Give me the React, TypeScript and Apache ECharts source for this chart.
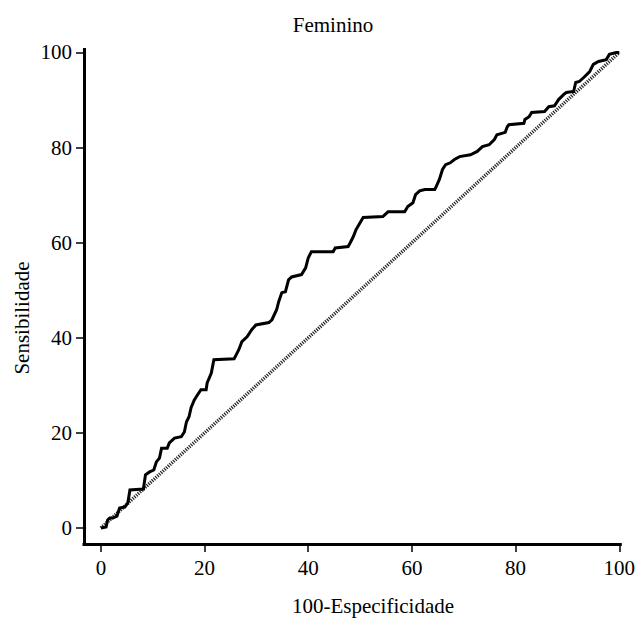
import React, { useEffect, useRef } from "react";
import * as echarts from "echarts";

const titleText = "Feminino";
const xName = "100-Especificidade";
const yName = "Sensibilidade";
const tickValues = [0, 20, 40, 60, 80, 100];

// ROC curve vertices (100-specificity, sensitivity)
const fpr = [
  0, 1.0, 1.3, 1.7, 2.3, 3.1, 3.6, 4.6, 5.2, 5.6, 8.2, 8.6, 9.4, 10.2, 10.7, 11.3, 11.7, 12.8,
  13.2, 14.2, 15.5, 16.1, 16.5, 17.0, 17.4, 18.0, 18.4, 19.3, 20.3, 20.5, 21.3, 21.8, 25.7, 26.1,
  26.6, 27.2, 28.2, 29.1, 29.9, 32.4, 33.0, 33.9, 34.3, 34.9, 35.6, 36.2, 36.8, 38.7, 39.5, 40.0,
  40.6, 44.8, 45.2, 47.7, 48.1, 48.7, 49.2, 50.0, 50.6, 54.4, 54.8, 55.4, 58.6, 59.2, 60.2, 60.7,
  61.5, 62.5, 64.4, 64.6, 65.3, 65.9, 66.5, 67.4, 68.2, 69.2, 71.3, 72.6, 73.6, 74.9, 75.9, 76.4,
  78.0, 78.4, 78.7, 81.6, 81.8, 82.6, 83.1, 85.6, 86.4, 87.5, 88.3, 89.3, 89.8, 91.2, 91.6, 92.3,
  93.3, 94.3, 95.0, 96.0, 97.5, 98.1, 99.4, 100,
];
const tpr = [
  0, 0.2, 1.7, 2.1, 2.1, 2.5, 4.2, 4.4, 5.3, 8.0, 8.2, 11.2, 11.8, 12.2, 13.9, 14.7, 16.8, 16.8,
  17.9, 18.9, 19.2, 20.2, 22.3, 23.4, 25.3, 26.9, 27.6, 29.1, 29.1, 30.5, 32.6, 35.4, 35.6, 36.4,
  37.5, 39.2, 40.2, 41.7, 42.7, 43.2, 43.8, 45.9, 47.6, 49.5, 49.7, 52.2, 52.8, 53.3, 54.7, 56.8,
  58.1, 58.1, 58.9, 59.2, 60.0, 61.3, 62.7, 64.2, 65.3, 65.5, 65.9, 66.5, 66.5, 67.6, 68.4, 70.1,
  70.9, 71.2, 71.2, 71.6, 73.3, 75.4, 76.4, 76.8, 77.5, 78.1, 78.5, 79.2, 80.2, 80.6, 81.7, 82.7,
  83.2, 84.4, 84.8, 85.1, 85.9, 86.5, 87.4, 87.6, 88.6, 88.8, 90.1, 91.2, 91.6, 91.8, 93.7, 93.9,
  94.9, 96.0, 97.5, 98.1, 98.5, 99.6, 100, 100,
];
const diagX = [0, 100];
const diagY = [0, 100];

const FONT = "Times New Roman, Liberation Serif, DejaVu Serif, serif";

export default function App() {
  const ref = useRef<HTMLDivElement>(null);
  useEffect(() => {
    if (!ref.current) return;
    const chart = echarts.init(ref.current, null, { renderer: "svg" });
    const axisCommon = {
      type: "value" as const,
      splitLine: { show: false },
      axisLine: { show: true, onZero: false, lineStyle: { color: "#000", width: 3, cap: "square" } },
      axisTick: {
        show: true,
        length: 8,
        customValues: tickValues,
        lineStyle: { color: "#000", width: 1.5 },
      },
      axisLabel: {
        customValues: tickValues,
        color: "#000",
        fontFamily: FONT,
        fontSize: 21,
      },
    };
    chart.setOption({
      animation: false,
      backgroundColor: "#fff",
      textStyle: { fontFamily: FONT },
      grid: { left: 84, right: 14, top: 49.5, bottom: 74, containLabel: false },
      xAxis: {
        ...axisCommon,
        min: -3.26,
        max: 100.2,
        axisLabel: { ...axisCommon.axisLabel, margin: 13 },
      },
      yAxis: {
        ...axisCommon,
        min: -3.36,
        max: 100.63,
        axisLabel: { ...axisCommon.axisLabel, margin: 12 },
      },
      graphic: [
        {
          type: "text",
          x: 333,
          y: 25,
          style: {
            text: titleText,
            font: "21px " + FONT,
            fill: "#000",
            textAlign: "center",
            textVerticalAlign: "middle",
          },
        },
        {
          type: "text",
          x: 373,
          y: 606,
          style: {
            text: xName,
            font: "21px " + FONT,
            fill: "#000",
            textAlign: "center",
            textVerticalAlign: "middle",
          },
        },
        {
          type: "text",
          x: 22,
          y: 318,
          rotation: Math.PI / 2,
          style: {
            text: yName,
            font: "21px " + FONT,
            fill: "#000",
            textAlign: "center",
            textVerticalAlign: "middle",
          },
        },
      ],
      series: [
        {
          type: "line",
          data: diagX.map((x, i) => [x, diagY[i]]),
          symbol: "none",
          silent: true,
          lineStyle: { color: "#222", width: 3.5, type: [1.2, 1.2] },
          z: 2,
        },
        {
          type: "line",
          data: fpr.map((x, i) => [x, tpr[i]]),
          symbol: "none",
          silent: true,
          lineStyle: { color: "#000", width: 3, join: "miter" },
          z: 3,
        },
      ],
    });
    return () => chart.dispose();
  }, []);
  return <div ref={ref} style={{ width: 638, height: 618, position: "absolute", left: 0, top: 0 }} />;
}
